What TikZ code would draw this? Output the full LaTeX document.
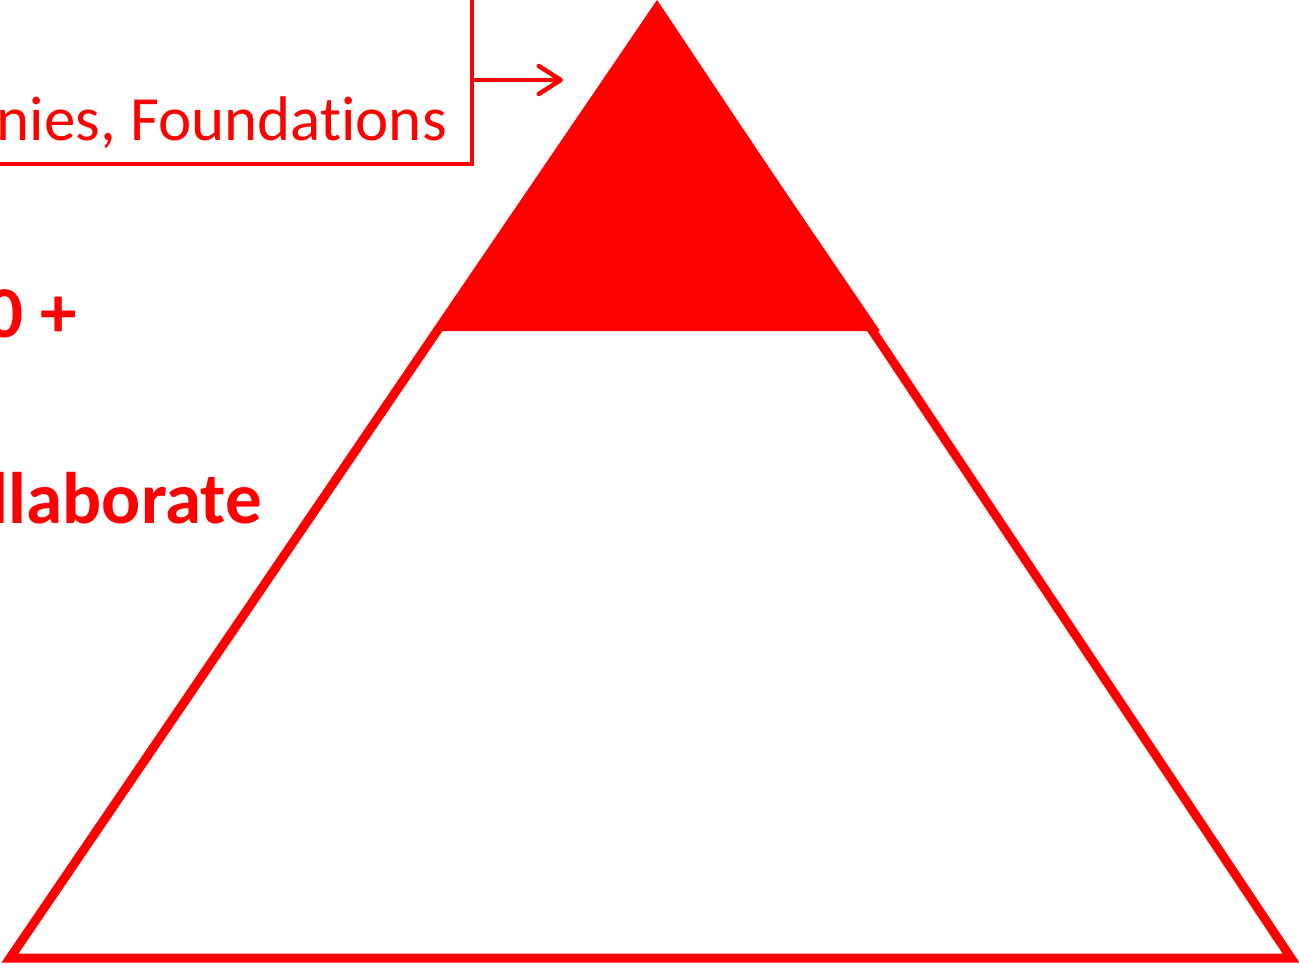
\documentclass[tikz,border=0pt]{standalone}
\usepackage{fontspec}
\setmainfont{Carlito}[Ligatures={NoCommon,NoRequired,NoContextual}]
\usetikzlibrary{arrows.meta}
\definecolor{pyred}{RGB}{255,0,0}
\tikzset{
  redline/.style={draw=pyred, line join=miter},
  lbltext/.style={text=pyred, inner sep=0pt, font=\fontsize{63}{70}\selectfont},
  boldtext/.style={text=pyred, inner sep=0pt, font=\bfseries\fontsize{73}{80}\selectfont},
}
\begin{document}
\begin{tikzpicture}[x=1pt,y=-1pt]
\useasboundingbox (0,0) rectangle (1299,964);
\clip (0,0) rectangle (1299,964);
% pyramid outline
\coordinate (apex) at (657,8);
\coordinate (bl) at (10,958);
\coordinate (br) at (1291,958);
\draw[redline, line width=9pt] (apex) -- (bl) -- (br) -- cycle;
% filled top
\coordinate (ftop) at (657,3);
\coordinate (fl) at (438,331);
\coordinate (fr) at (880,331);
\fill[pyred] (ftop) -- (fl) -- (fr) -- cycle;
% label box
\node[redline, line width=4pt, minimum width=520pt, minimum height=176pt, anchor=south east, inner sep=0pt] (box) at (474,166) {};
\node[lbltext, anchor=base east] (lbl) at (447,140) {nies, Foundations};
\coordinate (tip) at (563,80);
\draw[pyred, line width=4.5pt, line cap=round, -{Straight Barb[length=22pt,width=28pt,line width=4.5pt,round]}] (box.east |- tip) -- (tip);
% bold texts
\node[boldtext, anchor=base east] (t1) at (77,337) {0 +};
\node[boldtext, anchor=base east] (t2) at (262,523) {llaborate};
\end{tikzpicture}
\end{document}
